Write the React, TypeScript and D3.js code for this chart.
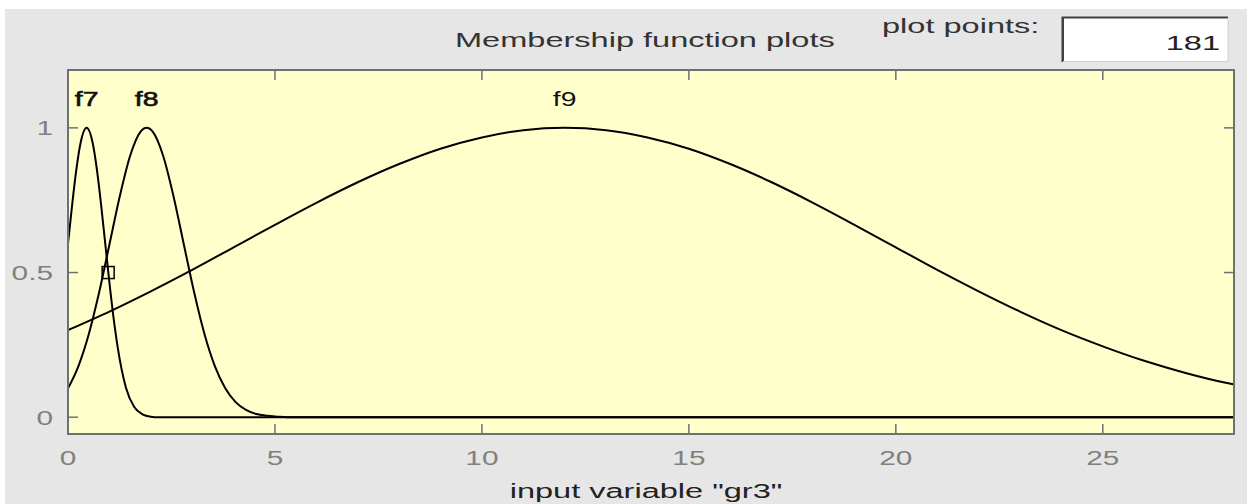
import React from "react";
import * as d3 from "d3";

// ---- data ----
const xTicks = [0, 5, 10, 15, 20, 25];
const yTicks = [0, 0.5, 1];
const yTickLabels = ["0", "0.5", "1"];
const xMax = 28.17;

const mfNames = ["f7", "f8", "f9"];
const mfCenters = [0.45, 1.9, 12];

const f7X = [0, 0.1, 0.2, 0.3, 0.45, 0.6, 0.7, 0.8, 0.9, 1.0, 1.1, 1.2, 1.4, 1.6, 1.8, 2.0, 2.2, 28.17];
const f7Y = [0.6, 0.734, 0.854, 0.945, 1, 0.945, 0.854, 0.734, 0.6, 0.466, 0.344, 0.242, 0.102, 0.035, 0.01, 0.002, 0, 0];

const f8X = [0, 0.25, 0.5, 0.75, 1.0, 1.25, 1.5, 1.75, 1.9, 2.05, 2.3, 2.55, 2.8, 3.05, 3.3, 3.55, 3.8, 4.05, 4.3, 4.55, 4.8, 5.05, 5.3, 28.17];
const f8Y = [0.1, 0.176, 0.286, 0.43, 0.596, 0.763, 0.903, 0.986, 1, 0.986, 0.903, 0.763, 0.596, 0.43, 0.286, 0.176, 0.1, 0.052, 0.025, 0.011, 0.005, 0.002, 0, 0];

const f9X = [0, 1, 2, 3, 4, 5, 6, 7, 8, 9, 10, 11, 12, 13, 14, 15, 16, 17, 18, 19, 20, 21, 22, 23, 24, 25, 26, 27, 28, 28.17];
const f9Y = [0.301, 0.365, 0.435, 0.509, 0.587, 0.665, 0.741, 0.812, 0.875, 0.928, 0.967, 0.992, 1, 0.992, 0.967, 0.928, 0.875, 0.812, 0.741, 0.665, 0.587, 0.509, 0.435, 0.365, 0.301, 0.245, 0.195, 0.153, 0.118, 0.113];

const markerX = [0.97];
const markerY = [0.5];

const plotPoints = "181";

// ---- layout ----
const W = 1256;
const H = 504;
const left = 68, right = 1234, top = 70, bottom = 434;
const SX = 1.55;
const FONT = "'Liberation Sans', Arial, sans-serif";

function T({ x, y, anchor = "start", size = 21, fill = "#222", weight = "normal", children, sx = SX, stroke }: any) {
  return (
    <text
      transform={`translate(${x},${y}) scale(${sx},1)`}
      textAnchor={anchor}
      fontFamily={FONT}
      fontSize={size}
      fontWeight={weight}
      fill={fill}
      stroke={stroke}
      strokeWidth={stroke ? 0.6 : 0}
    >
      {children}
    </text>
  );
}

export default function App() {
  const x = d3.scaleLinear().domain([0, xMax]).range([left, right]);
  const y = d3.scaleLinear().domain([-0.058, 1.2]).range([bottom, top]);

  const line = d3
    .line<[number, number]>()
    .x((d) => x(d[0]))
    .y((d) => y(d[1]))
    .curve(d3.curveMonotoneX);

  const series: [number, number][][] = [
    f7X.map((v, i) => [v, f7Y[i]]),
    f8X.map((v, i) => [v, f8Y[i]]),
    f9X.map((v, i) => [v, f9Y[i]]),
  ];

  const axisColor = "#707070";
  const tickLen = 10;

  return (
    <div style={{ position: "absolute", left: 0, top: 0, width: W, height: H, overflow: "hidden" }}>
      <svg width={W} height={H} style={{ display: "block" }}>
        <rect x={0} y={0} width={W} height={H} fill="#ffffff" />
        <rect x={5} y={9} width={1242} height={H - 9} fill="#e6e6e6" />

        {/* title and plot points box */}
        <T x={455} y={47} fill="#333">Membership function plots</T>
        <T x={882} y={33} fill="#333">plot points:</T>
        <rect x={1062} y={17} width={166} height={45} fill="#ffffff" />
        <path d="M1062.5,62 L1062.5,17.5 L1228,17.5" fill="none" stroke="#404040" strokeWidth={2} />
        <path d="M1063,62 L1063,18" fill="none" stroke="#404040" strokeWidth={2} />
        <path d="M1228,18 L1228,61.5 L1063,61.5" fill="none" stroke="#d0d0d0" strokeWidth={1} />
        <T x={1220} y={50} anchor="end" fill="#222">{plotPoints}</T>

        {/* plot area */}
        <rect x={left} y={top} width={right - left} height={bottom - top} fill="#ffffcc" />

        {/* ticks */}
        {xTicks.map((t) => (
          <g key={"xt" + t}>
            <line x1={x(t)} x2={x(t)} y1={bottom} y2={bottom - tickLen} stroke={axisColor} strokeWidth={1.5} />
            <line x1={x(t)} x2={x(t)} y1={top} y2={top + tickLen} stroke={axisColor} strokeWidth={1.5} />
            <T x={x(t)} y={465} anchor="middle" fill="#808080" sx={1.42}>{String(t)}</T>
          </g>
        ))}
        {yTicks.map((t, i) => (
          <g key={"yt" + t}>
            <line x1={left} x2={left + tickLen} y1={y(t)} y2={y(t)} stroke={axisColor} strokeWidth={1.5} />
            <line x1={right} x2={right - tickLen} y1={y(t)} y2={y(t)} stroke={axisColor} strokeWidth={1.5} />
            <T x={53} y={y(t) + 7.5} anchor="end" fill="#808080" sx={1.42}>{yTickLabels[i]}</T>
          </g>
        ))}

        {/* curves */}
        <g clipPath="url(#clipPlot)">
          {series.map((s, i) => (
            <path key={"s" + i} d={line(s) || ""} fill="none" stroke="#000" strokeWidth={2} strokeLinejoin="round" />
          ))}
        </g>
        <defs>
          <clipPath id="clipPlot">
            <rect x={left} y={top} width={right - left} height={bottom - top} />
          </clipPath>
        </defs>

        {markerX.map((mx, i) => (
          <rect key={"m" + i} x={x(mx) - 6} y={y(markerY[i]) - 6} width={12} height={12} fill="none" stroke="#000" strokeWidth={1.5} />
        ))}

        {/* MF labels */}
        {mfNames.map((n, i) => (
          <T key={n} x={x(mfCenters[i])} y={y(1.075)} anchor="middle" fill="#111" sx={1.35} stroke={i < 2 ? "#111" : undefined}>
            {n}
          </T>
        ))}

        {/* frame */}
        <rect x={left} y={top} width={right - left} height={bottom - top} fill="none" stroke={axisColor} strokeWidth={2} />

        <T x={(left + right) / 2 - 5} y={498} anchor="middle" fill="#222">input variable "gr3"</T>
      </svg>
    </div>
  );
}
